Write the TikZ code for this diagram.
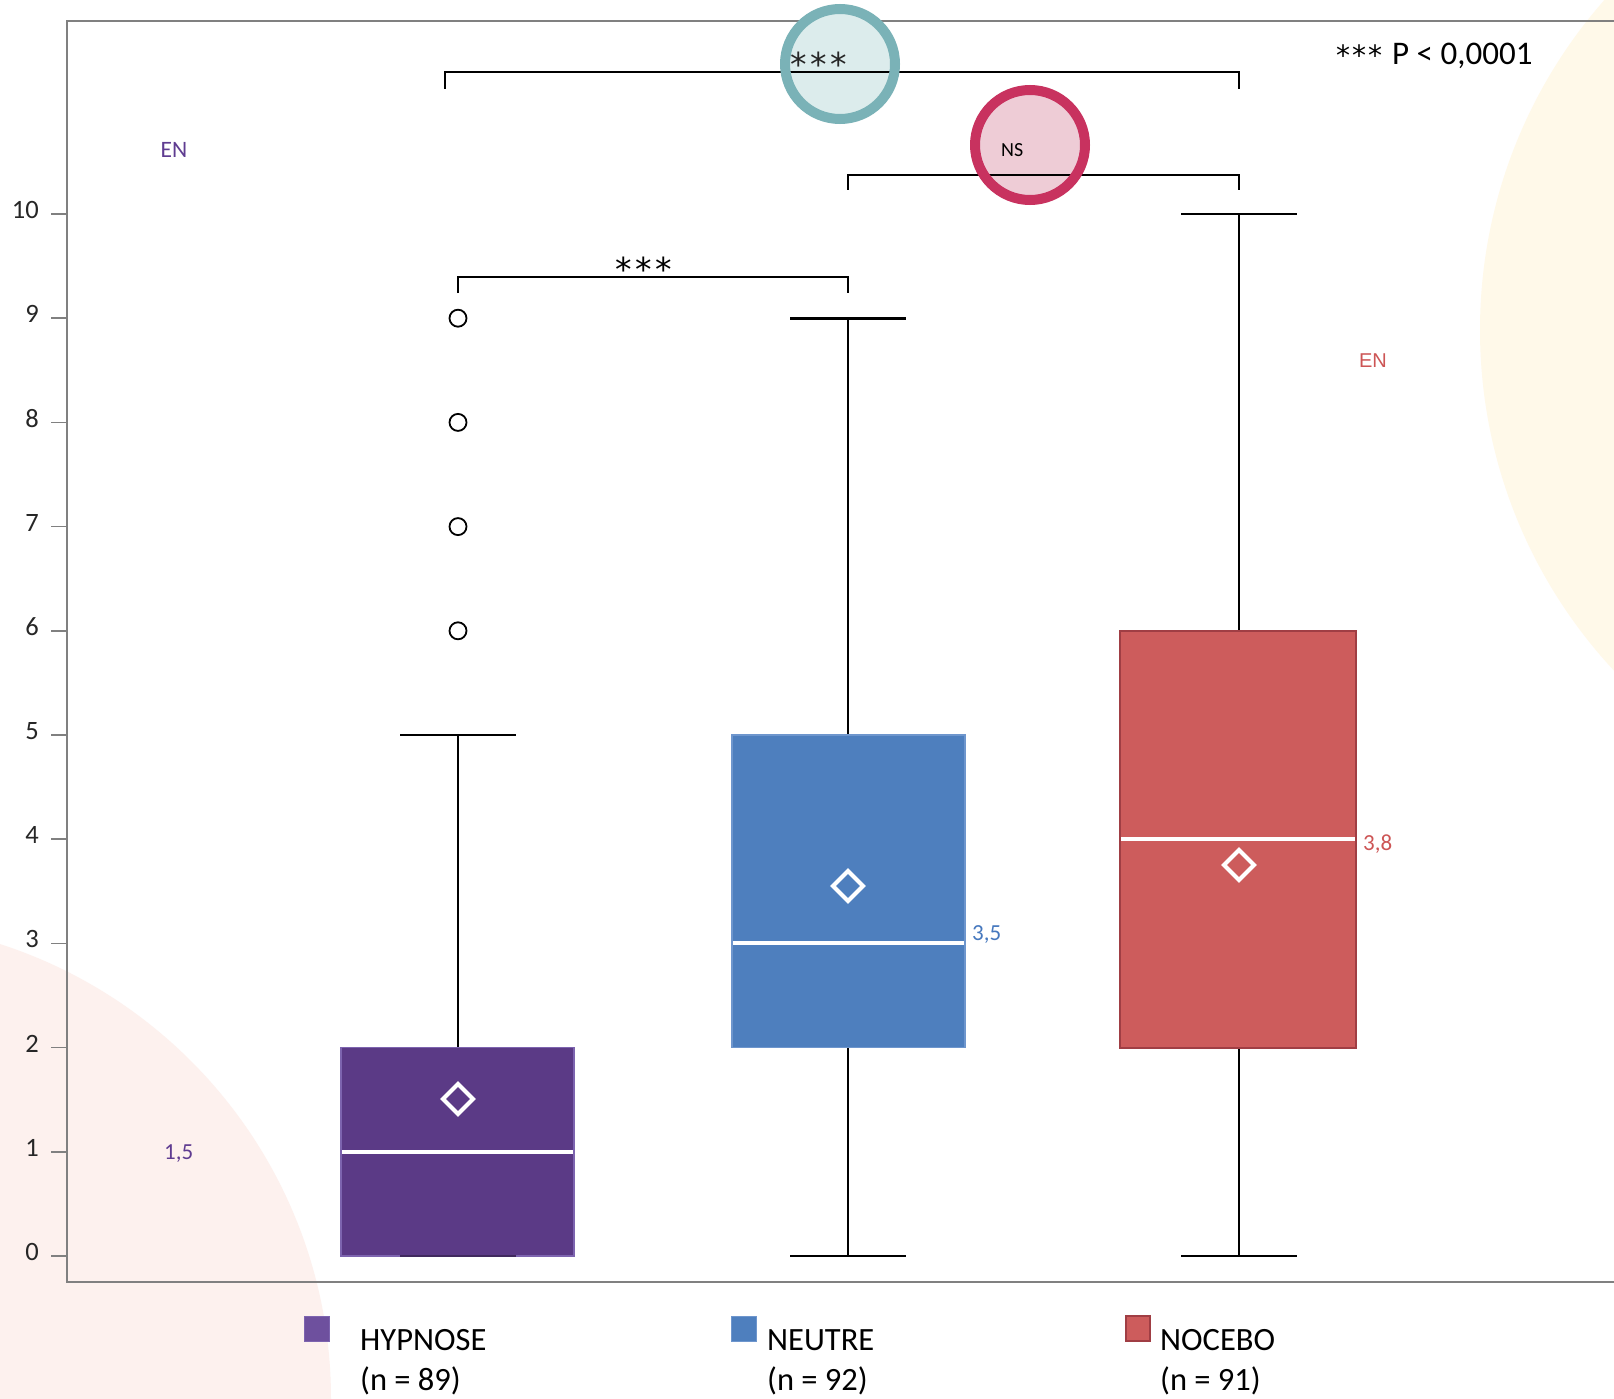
\documentclass[tikz,border=0pt]{standalone}
\usepackage{fontspec}
\setmainfont{Carlito}
\newfontfamily\arialf{Liberation Sans}
\newfontfamily\djv{DejaVu Sans}
\definecolor{hypc}{RGB}{91,58,134}
\definecolor{hypb}{RGB}{125,100,175}
\definecolor{hypl}{RGB}{110,80,158}
\definecolor{neuc}{RGB}{78,127,190}
\definecolor{neub}{RGB}{110,150,205}
\definecolor{noc}{RGB}{205,92,92}
\definecolor{nob}{RGB}{160,62,68}
\definecolor{tealc}{RGB}{122,178,183}
\definecolor{tealf}{RGB}{220,236,236}
\definecolor{crim}{RGB}{200,50,95}
\definecolor{crimf}{RGB}{238,204,214}
\definecolor{axg}{RGB}{128,128,128}
\definecolor{pinkbg}{RGB}{253,241,238}
\definecolor{yelbg}{RGB}{255,249,233}
\definecolor{labpurple}{RGB}{95,60,145}
\definecolor{labblue}{RGB}{70,120,190}
\definecolor{labred}{RGB}{205,85,85}
\begin{document}
\begin{tikzpicture}[x=1pt,y=-1pt,
  tickline/.style={axg,line width=1.5pt},
  ticklab/.style={anchor=east,inner sep=0pt,text=black!85,font=\fontsize{26.5}{26.5}\selectfont},
  whisk/.style={black,line width=1.8pt},
  capline/.style={black,line width=2.6pt},
  brk/.style={black,line width=2.8pt},
  medline/.style={white,line width=4pt},
  meand/.style={white,line width=4pt,line join=miter},
  outl/.style={circle,draw=black,fill=white,line width=1.8pt,minimum size=17pt,inner sep=0pt},
  vallab/.style={anchor=base west,inner sep=0pt,font=\fontsize{23}{23}\selectfont},
  legtxt/.style={anchor=base west,inner sep=0pt,align=left,font=\fontsize{32.5}{40}\selectfont},
  starlab/.style={anchor=base,inner sep=0pt,font=\djv\fontsize{33}{33}\selectfont}
]
\useasboundingbox (0,0) rectangle (1614,1399);
\fill[white] (0,0) rectangle (1614,1399);
\begin{scope}
  \clip (0,0) rectangle (1614,1399);
  \fill[pinkbg] (-147,1399) circle[radius=478pt];
  \fill[yelbg] (1980,330) circle[radius=500pt];
\end{scope}

% frame
\draw[axg,line width=2pt] (1614,21) -- (67,21) -- (67,1282) -- (1614,1282);

% ticks
\foreach \v in {0,...,10}{
  \draw[tickline] (51,{1256-104.2*\v}) -- (67,{1256-104.2*\v});
  \node[ticklab] (t\v) at (39,{1256-104.2*\v-4}) {\v};
}

% HYPNOSE
\draw[whisk] (458,1047.6) -- (458,735);
\draw[capline] (400,735) -- (516,735);
\filldraw[fill=hypc,draw=hypb,line width=1.5pt] (341,1256) rectangle (574,1047.6);
\draw[hypc!70!black,line width=2pt] (400,1256) -- (516,1256);
\draw[medline] (342,1151.8) -- (573,1151.8);
\draw[meand] (458,1084) -- (473,1099) -- (458,1114) -- (443,1099) -- cycle;
\foreach \v/\n in {6/a,7/b,8/c,9/d}{
  \node[outl] (o\n) at (458,{1256-104.2*\v}) {};
}

% NEUTRE
\draw[whisk] (848,1047.6) -- (848,1256);
\draw[whisk] (848,735) -- (848,318.2);
\draw[capline] (790,1256) -- (906,1256);
\draw[capline] (790,318.2) -- (906,318.2);
\filldraw[fill=neuc,draw=neub,line width=1.5pt] (732,1047.6) rectangle (965,735);
\draw[medline] (733,943.4) -- (964,943.4);
\draw[meand] (848,871) -- (863,886) -- (848,901) -- (833,886) -- cycle;

% NOCEBO
\draw[whisk] (1239,1047.6) -- (1239,1256);
\draw[whisk] (1239,630.8) -- (1239,214);
\draw[capline] (1181,1256) -- (1297,1256);
\draw[capline] (1181,214) -- (1297,214);
\filldraw[fill=noc,draw=nob,line width=2pt] (1120,1047.6) rectangle (1356,630.8);
\draw[medline] (1121,839.2) -- (1355,839.2);
\draw[meand] (1239,850) -- (1254,865) -- (1239,880) -- (1224,865) -- cycle;

% value labels
\node[vallab,text=labpurple] (v15) at (164,1159) {1,5};
\node[vallab,text=labblue] (v35) at (972,940) {3,5};
\node[vallab,text=labred] (v38) at (1363,850) {3,8};
\node[inner sep=0pt,text=labpurple,font=\fontsize{23.5}{23.5}\selectfont] (en1) at (174,150) {EN};
\node[inner sep=0pt,text=labred,font=\arialf\fontsize{20}{20}\selectfont] (en2) at (1373,361) {EN};

% brackets with circles
\coordinate (b1l) at (445,89); \coordinate (b1r) at (1239,89);
\coordinate (b2l) at (848,190); \coordinate (b2r) at (1239,190);
\coordinate (b3l) at (458,293); \coordinate (b3r) at (848,293);

\fill[tealf] (840,64) circle[radius=55pt];
\fill[crimf] (1030,145) circle[radius=55pt];
\draw[brk] (b1l) -- (445,72) -- (1239,72) -- (b1r);
\draw[brk] (b2l) -- (848,175) -- (1239,175) -- (b2r);
\draw[brk] (b3l) -- (458,277) -- (848,277) -- (b3r);
\draw[tealc,line width=10pt] (840,64) circle[radius=55pt];
\draw[crim,line width=10pt] (1030,145) circle[radius=55pt];

\node[starlab,text=black!85] (s1) at (818.5,76.5) {*\hspace{3.5pt}*\hspace{3.5pt}*};
\node[starlab] (s3) at (643.5,281.5) {*\hspace{3.5pt}*\hspace{3.5pt}*};
\node[anchor=base west,inner sep=0pt,font=\fontsize{20}{20}\selectfont] (ns) at (1001,157) {NS};
\node[anchor=base west,inner sep=0pt,font=\djv\fontsize{28}{28}\selectfont] (pstar) at (1336,66) {*\hspace{2pt}*\hspace{2pt}*};
\node[anchor=base west,inner sep=0pt,font=\fontsize{33}{33}\selectfont] (pval) at (1392,65) {P < 0,0001};

% legend
\fill[hypl,draw=hypb,line width=1pt] (304,1316) rectangle (329,1341);
\fill[neuc,draw=neub,line width=1pt] (731,1316) rectangle (756,1341);
\fill[noc,draw=nob,line width=1.5pt] (1126,1316) rectangle (1150,1341);
\node[legtxt] (lh) at (360,1390) {HYPNOSE\\(n = 89)};
\node[legtxt] (ln) at (767,1390) {NEUTRE\\(n = 92)};
\node[legtxt] (lc) at (1160,1390) {NOCEBO\\(n = 91)};
\end{tikzpicture}
\end{document}
